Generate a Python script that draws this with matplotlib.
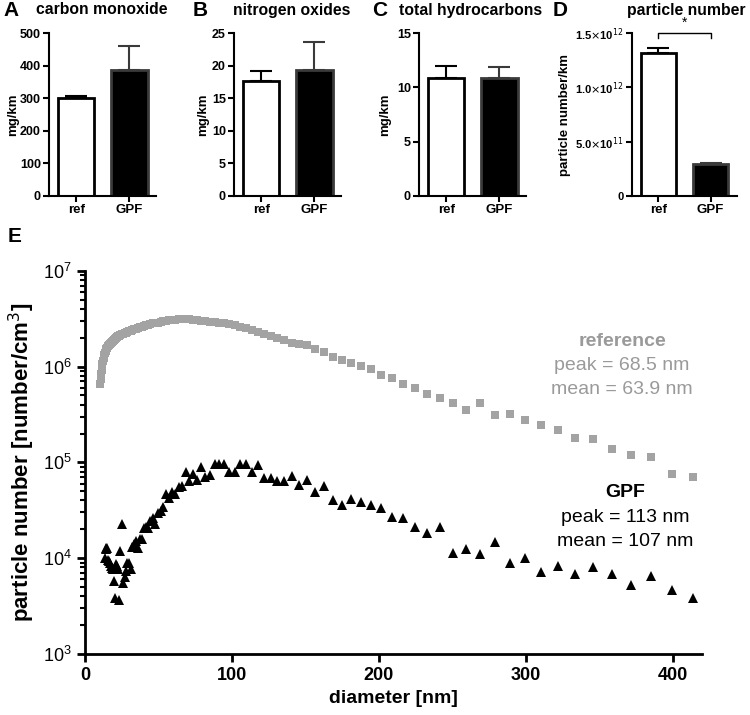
import matplotlib
matplotlib.use("Agg")
import matplotlib.pyplot as plt
from matplotlib.ticker import LogLocator, FixedLocator, NullFormatter

plt.rcParams['font.family'] = ['Liberation Sans', 'DejaVu Sans']

# ---- top panels: emission factors (mean, upper error) ----
groups = ['ref', 'GPF']
co_mean = [300, 388]
co_err = [6, 72]
nox_mean = [17.7, 19.3]
nox_err = [1.5, 4.3]
thc_mean = [10.9, 10.85]
thc_err = [1.05, 1.05]
pn_mean = [1.315e12, 0.292e12]
pn_err = [0.05e12, 0.012e12]

# ---- panel E: size distributions (SMPS channel midpoints, nm) ----
diameter = [10.2, 10.6, 10.9, 11.3, 11.8, 12.2, 12.6, 13.1, 13.6, 14.1,
            14.6, 15.1, 15.7, 16.3, 16.8, 17.5, 18.1, 18.8, 19.5, 20.2,
            20.9, 21.7, 22.5, 23.3, 24.1, 25.0, 25.9, 26.9, 27.9, 28.9,
            30.0, 31.1, 32.2, 33.4, 34.6, 35.9, 37.2, 38.5, 40.0, 41.4,
            42.9, 44.5, 46.1, 47.8, 49.6, 51.4, 53.3, 55.2, 57.3, 59.4,
            61.5, 63.8, 66.1, 68.5, 71.0, 73.7, 76.4, 79.1, 82.0, 85.1,
            88.2, 91.4, 94.7, 98.2, 101.8, 105.5, 109.4, 113.4, 117.6, 121.9,
            126.3, 131.0, 135.8, 140.7, 145.9,
            151.2, 156.8, 162.5, 168.5, 174.7, 181.1, 187.7, 194.6, 201.7, 209.1,
            216.7, 224.7, 232.9, 241.4, 250.3, 259.5, 269.0, 278.8, 289.0, 299.6,
            310.6, 322.0, 333.8, 346.0, 358.7, 371.8, 385.4, 399.5, 414.2]

reference_pn = [6.6e5, 7.4e5, 8.3e5, 9.3e5, 1.05e6, 1.15e6, 1.23e6, 1.32e6, 1.38e6, 1.45e6,
                1.51e6, 1.55e6, 1.62e6, 1.66e6, 1.70e6, 1.78e6, 1.82e6, 1.86e6, 1.91e6, 1.95e6,
                2.00e6, 2.04e6, 2.07e6, 2.09e6, 2.14e6, 2.19e6, 2.21e6, 2.24e6, 2.26e6, 2.29e6,
                2.34e6, 2.37e6, 2.40e6, 2.45e6, 2.48e6, 2.51e6, 2.57e6, 2.60e6, 2.63e6, 2.69e6,
                2.72e6, 2.75e6, 2.82e6, 2.85e6, 2.88e6, 2.95e6, 2.99e6, 3.02e6, 3.05e6, 3.07e6,
                3.09e6, 3.10e6, 3.10e6, 3.11e6, 3.10e6, 3.08e6, 3.05e6, 3.02e6, 2.99e6, 2.95e6,
                2.91e6, 2.86e6, 2.82e6, 2.75e6, 2.69e6, 2.60e6, 2.51e6, 2.43e6, 2.32e6, 2.21e6,
                2.09e6, 2.00e6, 1.88e6, 1.78e6, 1.72e6,
                1.67e6, 1.54e6, 1.42e6, 1.26e6, 1.18e6, 1.10e6, 1.02e6, 9.35e5, 8.22e5, 7.52e5,
                6.62e5, 6.01e5, 5.12e5, 4.65e5, 4.19e5, 3.48e5, 4.19e5, 3.13e5, 3.18e5, 2.74e5,
                2.47e5, 2.18e5, 1.80e5, 1.74e5, 1.39e5, 1.18e5, 1.15e5, 7.5e4, 7.0e4]

gpf_diameter = diameter[8:]
gpf_pn = [1.01e4, 1.29e4, 1.25e4, 1.29e4, 9.6e3, 9.4e3, 8.8e3, 8.3e3, 7.9e3, 7.7e3,
          5.8e3, 3.86e3, 8.6e3, 8.3e3, 7.7e3, 3.7e3, 1.19e4, 2.26e4, 5.5e3, 6.3e3,
          7.3e3, 9.0e3, 9.0e3, 7.7e3,
          1.30e4, 1.40e4, 1.51e4, 1.29e4, 1.58e4, 1.60e4, 2.08e4, 2.14e4, 2.08e4, 2.45e4,
          2.65e4, 2.26e4, 2.99e4, 3.12e4, 3.38e4, 4.67e4, 4.24e4, 4.85e4, 4.70e4, 5.56e4,
          5.70e4, 7.85e4, 6.40e4, 7.55e4, 6.60e4,
          9.0e4, 7.1e4, 7.4e4, 9.5e4, 9.6e4, 9.5e4, 8.0e4, 7.85e4, 9.6e4, 9.6e4,
          7.85e4, 9.3e4, 6.8e4, 6.9e4, 6.4e4, 6.4e4, 7.25e4, 5.8e4,
          6.6e4, 4.9e4, 5.6e4, 4.04e4, 3.6e4, 4.14e4, 3.9e4, 3.6e4, 3.3e4, 2.69e4,
          2.65e4, 2.12e4, 1.82e4, 2.12e4, 1.14e4, 1.24e4, 1.11e4, 1.48e4, 8.8e3, 1.0e4,
          7.1e3, 8.3e3, 6.9e3, 8.15e3, 6.9e3, 5.3e3, 6.5e3, 4.6e3, 3.86e3]

GRAY = '#a3a3a3'
TEXT_GRAY = '#9a9a9a'

fig = plt.figure(figsize=(7.5, 7.15), dpi=100)


def bar_panel(rect, means, errs, ylim, yticks, yticklabels, ylabel, title, letter,
              title_x, letter_x, ylabel_x):
    ax = fig.add_axes(rect)
    x = [0, 1]
    ax.bar(x, means, width=0.68, color=['white', 'black'],
           edgecolor=['black', '#3a3a3a'], linewidth=2, zorder=2)
    ax.errorbar(x[0], means[0], yerr=[[0], [errs[0]]], color='black', lw=1.5,
                capsize=8, capthick=1.5, zorder=1)
    ax.errorbar(x[1], means[1], yerr=[[0], [errs[1]]], color='#3a3a3a', lw=1.5,
                capsize=8, capthick=1.5, zorder=1)
    ax.set_xlim(-0.51, 1.5)
    ax.set_ylim(*ylim)
    ax.set_xticks(x)
    ax.set_xticklabels(groups, fontsize=9.5, fontweight='bold')
    ax.set_yticks(yticks)
    ax.set_yticklabels(yticklabels, fontsize=9, fontweight='bold')
    for s in ['top', 'right']:
        ax.spines[s].set_visible(False)
    for s in ['left', 'bottom']:
        ax.spines[s].set_linewidth(1.5)
    ax.tick_params(width=1.5, length=4, pad=2)
    fig.text(ylabel_x / 750, (1 - 115 / 715), ylabel, rotation=90, ha='center', va='center',
             fontsize=9.5, fontweight='bold')
    fig.text(title_x / 750, 1 - 10 / 715, title, ha='center', va='center',
             fontsize=11.3, fontweight='bold')
    fig.text(letter_x / 750, 1 - 10 / 715, letter, ha='left', va='center',
             fontsize=15, fontweight='bold')
    return ax


top_b = 1 - 195.7 / 715
top_h = 162.4 / 715

bar_panel([49.3 / 750, top_b, 106.7 / 750, top_h], co_mean, co_err, (0, 500),
          [0, 100, 200, 300, 400, 500], ['0', '100', '200', '300', '400', '500'],
          'mg/km', 'carbon monoxide', 'A', 102, 3, 13)
bar_panel([234.3 / 750, top_b, 106.7 / 750, top_h], nox_mean, nox_err, (0, 25),
          [0, 5, 10, 15, 20, 25], ['0', '5', '10', '15', '20', '25'],
          'mg/km', 'nitrogen oxides', 'B', 292, 193, 203)
bar_panel([419.3 / 750, top_b, 106.7 / 750, top_h], thc_mean, thc_err, (0, 15),
          [0, 5, 10, 15], ['0', '5', '10', '15'],
          'mg/km', 'total hydrocarbons', 'C', 471, 372, 385)
axd = bar_panel([631.7 / 750, top_b, 105 / 750, top_h], pn_mean, pn_err, (0, 1.5e12),
                [0, 0.5e12, 1.0e12, 1.5e12],
                ['0', r'5.0$\times$10$^{11}$', r'1.0$\times$10$^{12}$', r'1.5$\times$10$^{12}$'],
                'particle number/km', 'particle number', 'D', 686, 553, 565)
axd.set_yticklabels(['0', r'5.0$\times$10$^{11}$', r'1.0$\times$10$^{12}$', r'1.5$\times$10$^{12}$'],
                    fontsize=8)
# significance bracket
axd.plot([0, 0, 1, 1], [1.46e12, 1.505e12, 1.505e12, 1.46e12], color='black', lw=1,
         clip_on=False)
axd.text(0.5, 1.53e12, '*', ha='center', va='bottom', fontsize=10)

# ---- panel E ----
axe = fig.add_axes([85 / 750, 1 - 654 / 715, 617 / 750, (654 - 270.7) / 715])
axe.plot(diameter, reference_pn, linestyle='none', marker='s', markersize=6.2,
         color=GRAY, markeredgewidth=0)
axe.plot(gpf_diameter, gpf_pn, linestyle='none', marker='^', markersize=6.5,
         color='black', markeredgewidth=0)
axe.set_yscale('log')
axe.set_ylim(1e3, 1e7)
axe.set_xlim(0, 420)
axe.set_xticks([0, 100, 200, 300, 400])
axe.yaxis.set_major_locator(FixedLocator([1e3, 1e4, 1e5, 1e6, 1e7]))
axe.yaxis.set_minor_locator(LogLocator(base=10, subs=range(2, 10)))
axe.yaxis.set_minor_formatter(NullFormatter())
for s in ['top', 'right']:
    axe.spines[s].set_visible(False)
for s in ['left', 'bottom']:
    axe.spines[s].set_linewidth(2)
axe.tick_params(which='major', width=2, length=6, labelsize=13)
axe.tick_params(which='minor', width=1.5, length=3.5)
for lbl in axe.get_xticklabels():
    lbl.set_fontweight('bold')
axe.set_xlabel('diameter [nm]', fontsize=14, fontweight='bold', labelpad=4)
axe.set_ylabel('particle number [number/cm$^3$]', fontsize=16, fontweight='bold', labelpad=4)

fig.text(8 / 750, 1 - 237 / 715, 'E', fontsize=15, fontweight='bold', ha='left', va='center')

ann_x = 622 / 750
fig.text(ann_x, 1 - 341.7 / 715, 'reference', color=TEXT_GRAY, fontsize=14,
         fontweight='bold', ha='center', va='center')
fig.text(ann_x, 1 - 366 / 715, 'peak = 68.5 nm', color=TEXT_GRAY, fontsize=14,
         ha='center', va='center')
fig.text(ann_x, 1 - 390 / 715, 'mean = 63.9 nm', color=TEXT_GRAY, fontsize=14,
         ha='center', va='center')
fig.text(625 / 750, 1 - 492.7 / 715, 'GPF', color='black', fontsize=14,
         fontweight='bold', ha='center', va='center')
fig.text(625 / 750, 1 - 517.3 / 715, 'peak = 113 nm', color='black', fontsize=14,
         ha='center', va='center')
fig.text(625 / 750, 1 - 541.7 / 715, 'mean = 107 nm', color='black', fontsize=14,
         ha='center', va='center')

fig.savefig('out.png', dpi=100)
